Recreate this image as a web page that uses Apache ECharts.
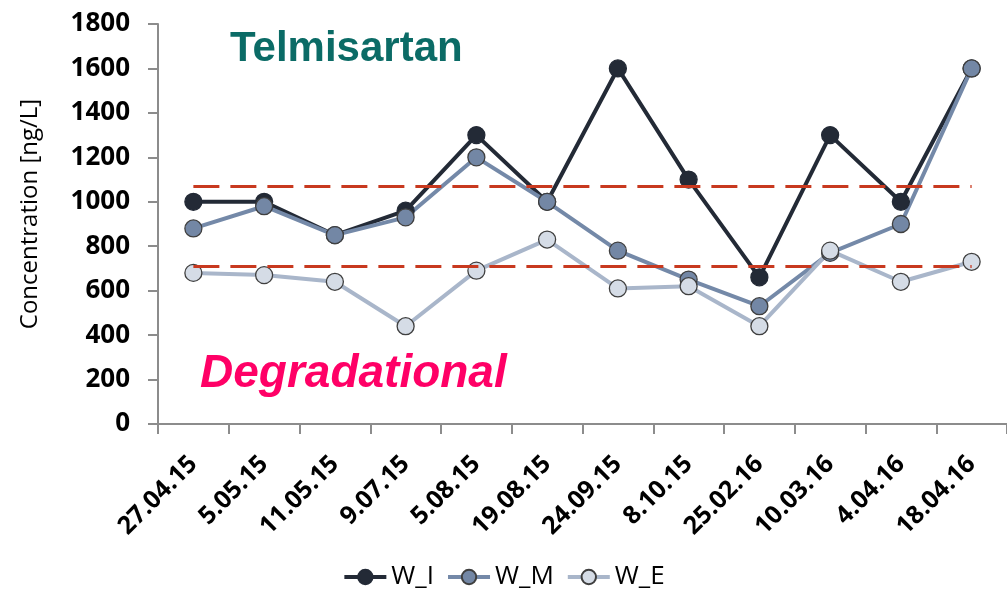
<!DOCTYPE html>
<html>
<head>
<meta charset="utf-8">
<script src="https://cdn.jsdelivr.net/npm/echarts@6/dist/echarts.min.js"></script>
<style>
  html, body { margin: 0; padding: 0; background: #fff; }
  #chart { width: 1007px; height: 595px; }
</style>
</head>
<body>
<div id="chart"></div>
<script>
let dates = ['27.04.15', '5.05.15', '11.05.15', '9.07.15', '5.08.15', '19.08.15',
  '24.09.15', '8.10.15', '25.02.16', '10.03.16', '4.04.16', '18.04.16'];
let wI = [1000, 1000, 850, 960, 1300, 1000, 1600, 1100, 660, 1300, 1000, 1600];
let wM = [880, 980, 850, 930, 1200, 1000, 780, 650, 530, 770, 900, 1600];
let wE = [680, 670, 640, 440, 690, 830, 610, 620, 440, 780, 640, 730];
let limits = [1071, 711]; // dashed red reference lines
let yTicks = [0, 1800, 200]; // min, max, interval

const font = '"Open Sans", "Liberation Sans", sans-serif';

function lineSeries(name, data, lineColor, fill, border) {
  return {
    name: name,
    type: 'line',
    data: data,
    symbol: 'circle',
    symbolSize: 17,
    lineStyle: { color: lineColor, width: 4 },
    itemStyle: { color: fill, borderColor: border, borderWidth: 1.3 },
    emphasis: { disabled: true }
  };
}

let series = [
  lineSeries('W_I', wI, '#232a36', '#232a36', '#232a36'),
  lineSeries('W_M', wM, '#7489a8', '#7387a5', '#3f3f3f'),
  lineSeries('W_E', wE, '#a9b6ca', '#d5dce6', '#3f3f3f')
];

// dashed reference lines, drawn on the first series
series[0].markLine = {
  symbol: 'none',
  silent: true,
  label: { show: false },
  lineStyle: { color: '#c8391f', width: 3, type: [26, 11] },
  data: limits.map(v => [{ coord: [0, v] }, { coord: [dates.length - 1, v] }])
};

let option = {
  animation: false,
  backgroundColor: '#fff',
  grid: { left: 158, top: 24, width: 852, bottom: 171 },
  xAxis: {
    type: 'category',
    data: dates,
    boundaryGap: true,
    axisLine: { lineStyle: { color: '#8c8c8c', width: 2 } },
    axisTick: { show: true, length: 10, alignWithLabel: false, lineStyle: { color: '#8c8c8c', width: 2 } },
    axisLabel: {
      interval: 0, rotate: 45, margin: 36,
      color: '#000', fontFamily: font, fontWeight: 'bold', fontSize: 25
    }
  },
  yAxis: {
    type: 'value',
    min: yTicks[0], max: yTicks[1], interval: yTicks[2],
    name: 'Concentration [ng/L]',
    nameLocation: 'middle',
    nameGap: 116,
    nameTextStyle: { color: '#000', fontFamily: font, fontSize: 24, padding: [0, 0, 0, 20] },
    splitLine: { show: false },
    axisLine: { show: true, lineStyle: { color: '#8c8c8c', width: 2 } },
    axisTick: { show: true, length: 10, lineStyle: { color: '#8c8c8c', width: 2 } },
    axisLabel: {
      margin: 28, color: '#000', fontFamily: font, fontWeight: 'bold', fontSize: 26,
      formatter: v => String(v)
    }
  },
  legend: {
    bottom: 0,
    left: 'center',
    itemWidth: 42,
    itemHeight: 18,
    itemGap: 12,
    lineStyle: { width: 4 },
    textStyle: { color: '#000', fontFamily: font, fontSize: 26 },
    data: ['W_I', 'W_M', 'W_E']
  },
  graphic: [
    {
      type: 'text', left: 230, top: 28,
      style: { text: 'Telmisartan', fill: '#0b6b66', font: 'bold 42px "Liberation Sans", Arial, sans-serif' }
    },
    {
      type: 'text', left: 200, top: 351,
      style: { text: 'Degradational', fill: '#ff0066', font: 'italic bold 46px "Liberation Sans", Arial, sans-serif' }
    }
  ],
  series: series
};

let chart = echarts.init(document.getElementById('chart'));
chart.setOption(option);
</script>
</body>
</html>
